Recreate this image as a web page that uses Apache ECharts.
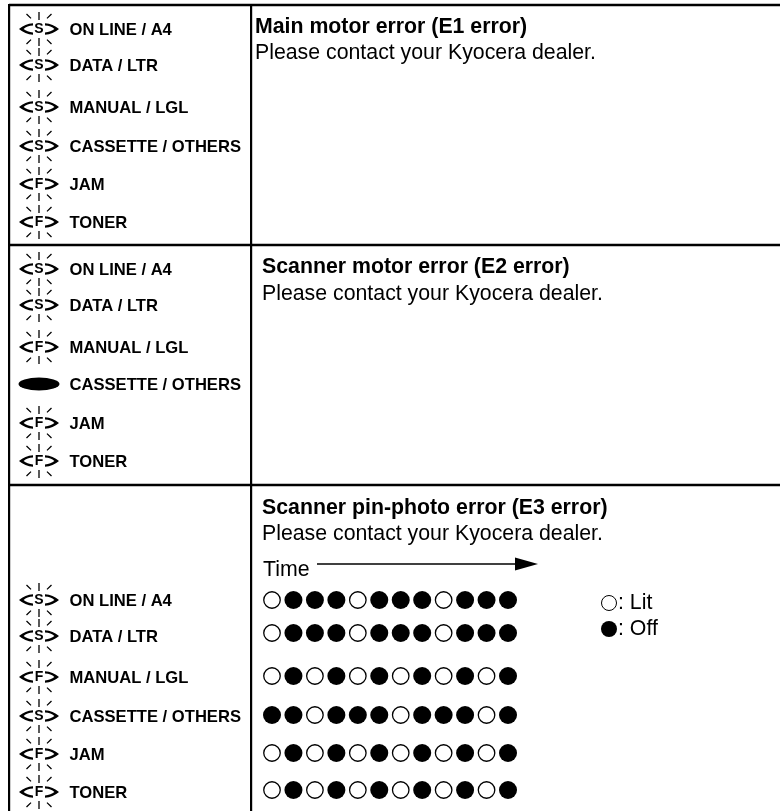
<!DOCTYPE html>
<html><head><meta charset="utf-8">
<style>html,body{margin:0;padding:0;background:#fff}#c{width:780px;height:811px}</style>
<script src="https://cdn.jsdelivr.net/npm/echarts@6/dist/echarts.min.js"></script>
</head><body><div id="c"></div>
<script>
// ---- content ----
const indicatorNames = ['ON LINE / A4','DATA / LTR','MANUAL / LGL','CASSETTE / OTHERS','JAM','TONER'];
const panel1States = ['S','S','S','S','F','F'];
const panel2States = ['S','S','F','ON','F','F'];
const panel3States = ['S','S','F','S','F','F'];
const panelTitles = ['Main motor error (E1 error)','Scanner motor error (E2 error)','Scanner pin-photo error (E3 error)'];
const contactText = 'Please contact your Kyocera dealer.';
// E3 sequence, 0 = lit, 1 = off
const seqOnline   = [0,1,1,1,0,1,1,1,0,1,1,1];
const seqData     = [0,1,1,1,0,1,1,1,0,1,1,1];
const seqManual   = [0,1,0,1,0,1,0,1,0,1,0,1];
const seqCassette = [1,1,0,1,1,1,0,1,1,1,0,1];
const seqJam      = [0,1,0,1,0,1,0,1,0,1,0,1];
const seqToner    = [0,1,0,1,0,1,0,1,0,1,0,1];
const sequences = [seqOnline,seqData,seqManual,seqCassette,seqJam,seqToner];

// ---- layout ----
const W=780,H=811, FONT='"Liberation Sans",Arial,sans-serif';
const panelRows=[[29,65,107,146,184,222],[269,305,347,384,423,461],[600,636,677,716,754,792]];
const dotRows=[0,33,76,115,153,190];
const hLines=[5,245,485], vLines=[9,251];

function ray(x1,y1,x2,y2,w){
  const dx=x2-x1,dy=y2-y1,l=Math.hypot(dx,dy),nx=-dy/l*w/2,ny=dx/l*w/2;
  return `M${x1+nx} ${y1+ny}L${x2+nx} ${y2+ny}L${x2-nx} ${y2-ny}L${x1-nx} ${y1-ny}Z`;
}
const blink='path://'+[
  ray(20,0,20,8,1.3),ray(20,26,20,34,1.3),
  ray(7.5,2,12,6.4,1.3),ray(32.5,2,28,6.4,1.3),
  ray(7.5,32,12,27.6,1.3),ray(32.5,32,28,27.6,1.3),
  'M14 11.3Q6 11.8 0 17Q6 22.2 14 22.7L14 20.4Q8 20 4.6 17Q8 14 14 13.6Z',
  'M26 11.3Q34 11.8 40 17Q34 22.2 26 22.7L26 20.4Q32 20 35.4 17Q32 14 26 13.6Z'
].join('');

const ledData=[],labelData=[];
[panel1States,panel2States,panel3States].forEach((st,p)=>st.forEach((s,i)=>{
  const y=panelRows[p][i];
  ledData.push({value:[39,y],symbol:s==='ON'?'circle':blink,symbolSize:s==='ON'?[41,13]:[40,34],
    label:{show:s!=='ON',formatter:s}});
  labelData.push({value:[69,y+1],name:indicatorNames[i]});
}));
const litData=[],offData=[];
sequences.forEach((seq,r)=>seq.forEach((v,c)=>(v?offData:litData).push([c,dotRows[r]])));

const text=(x,cy,t,bold)=>({type:'text',left:x,top:cy-10,silent:true,
  style:{text:t,font:`${bold?'bold ':''}21.3px ${FONT}`,fill:'#000'}});
const graphic=[
  ...hLines.map(y=>({type:'rect',shape:{x:9,y:y-1.2,width:W-9,height:2.4},style:{fill:'#000'},silent:true})),
  ...vLines.map(x=>({type:'rect',shape:{x:x-1,y:4,width:2.2,height:H-4},style:{fill:'#000'},silent:true})),
  text(255,27,panelTitles[0],true),text(255,53,contactText),
  text(262,267,panelTitles[1],true),text(262,294,contactText),
  text(262,508,panelTitles[2],true),text(262,534,contactText),
  text(263,570,'Time'),
  {type:'rect',shape:{x:317,y:563.3,width:200,height:1.4},style:{fill:'#000'},silent:true},
  {type:'polygon',shape:{points:[[515,557.5],[538,564],[515,570.5]]},style:{fill:'#000'},silent:true}
];

const chart=echarts.init(document.getElementById('c'),null,{renderer:'canvas'});
chart.setOption({
  animation:false,backgroundColor:'#fff',
  grid:[
    {left:0,top:0,width:W,height:H,show:false},
    {left:272,top:600,width:236,height:190,show:false}
  ],
  xAxis:[
    {gridIndex:0,type:'value',min:0,max:W,show:false},
    {gridIndex:1,type:'value',min:0,max:11,show:false}
  ],
  yAxis:[
    {gridIndex:0,type:'value',min:0,max:H,inverse:true,show:false},
    {gridIndex:1,type:'value',min:0,max:190,inverse:true,show:false}
  ],
  graphic,
  series:[
    {type:'scatter',xAxisIndex:0,yAxisIndex:0,clip:false,data:ledData,
     itemStyle:{color:'#000',opacity:1},
     label:{position:'inside',color:'#000',fontFamily:FONT,fontWeight:'bold',fontSize:14}},
    {type:'scatter',xAxisIndex:0,yAxisIndex:0,clip:false,symbolSize:1,data:labelData,
     itemStyle:{color:'rgba(0,0,0,0)',opacity:1},
     label:{show:true,opacity:1,position:'right',distance:0,formatter:'{b}',color:'#000',fontFamily:FONT,fontWeight:'bold',fontSize:16.6}},
    {type:'scatter',xAxisIndex:1,yAxisIndex:1,clip:false,symbol:'circle',symbolSize:16.5,data:litData,
     itemStyle:{color:'#fff',borderColor:'#000',borderWidth:1.3,opacity:1}},
    {type:'scatter',xAxisIndex:1,yAxisIndex:1,clip:false,symbol:'circle',symbolSize:18,data:offData,
     itemStyle:{color:'#000',opacity:1}},
    {type:'scatter',xAxisIndex:0,yAxisIndex:0,clip:false,symbol:'circle',symbolSize:15,
     data:[{value:[609,603],name:': Lit'}],
     itemStyle:{color:'#fff',borderColor:'#000',borderWidth:1,opacity:1},
     label:{show:true,position:'right',distance:1,formatter:'{b}',color:'#000',fontFamily:FONT,fontSize:21.3}},
    {type:'scatter',xAxisIndex:0,yAxisIndex:0,clip:false,symbol:'circle',symbolSize:16,
     data:[{value:[609,629],name:': Off'}],
     itemStyle:{color:'#000',opacity:1},
     label:{show:true,position:'right',distance:1,formatter:'{b}',color:'#000',fontFamily:FONT,fontSize:21.3}}
  ]
});
</script></body></html>
